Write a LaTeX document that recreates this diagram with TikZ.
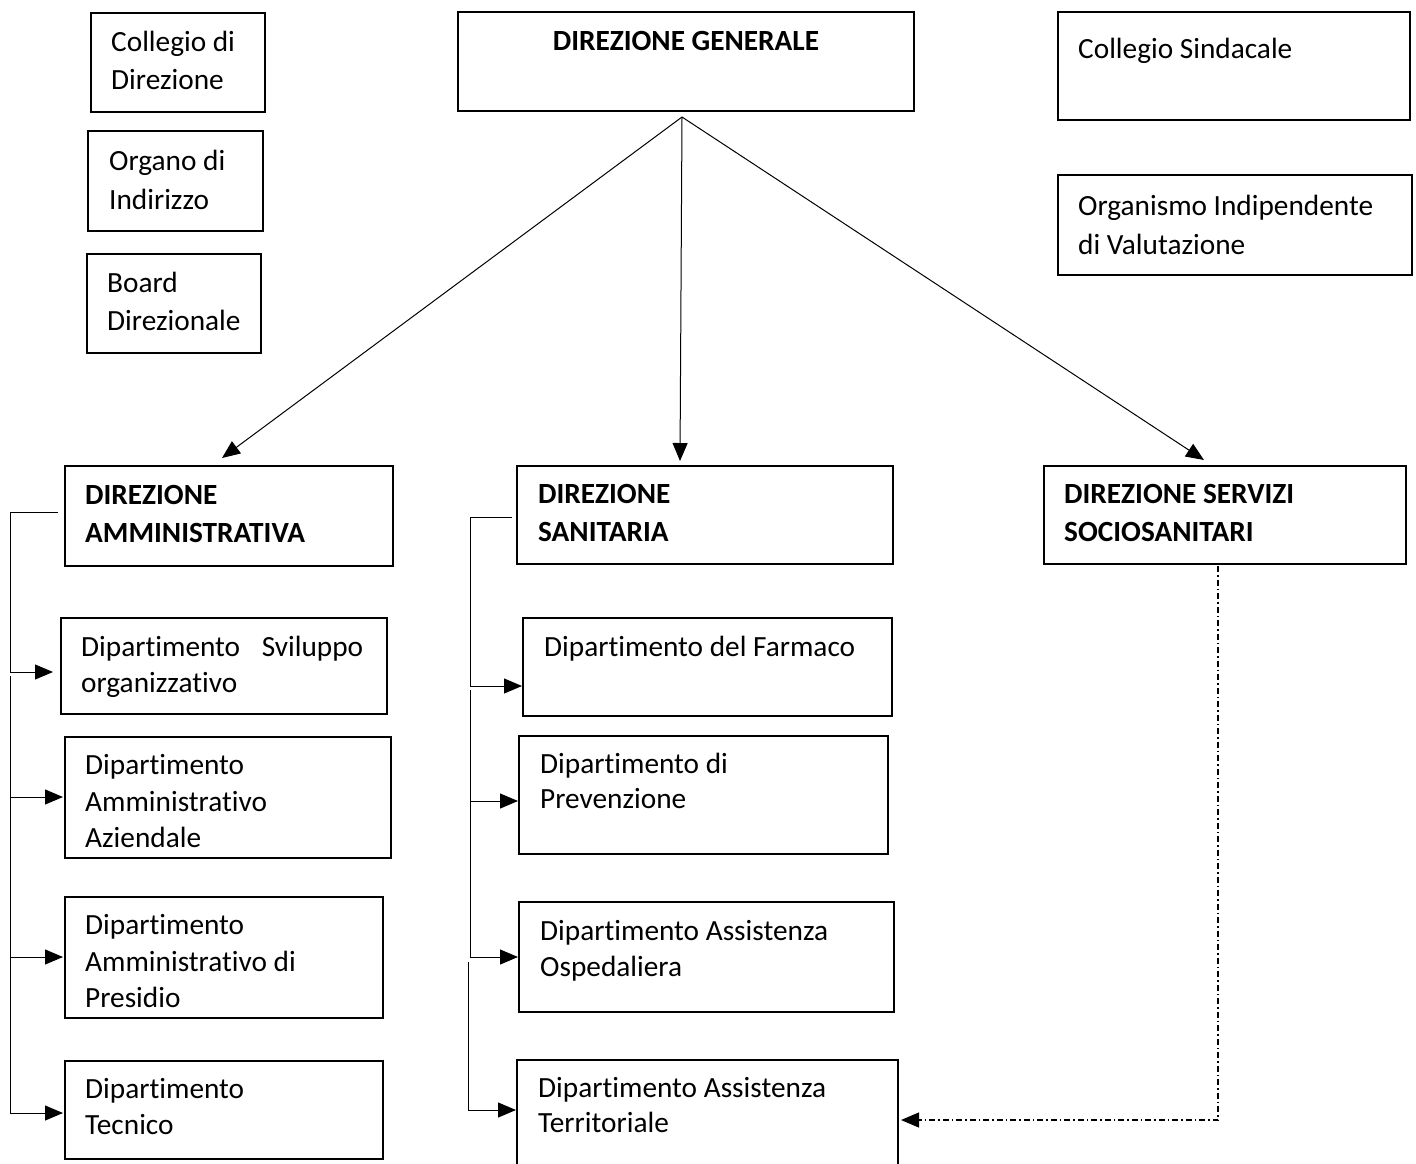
\documentclass[tikz,border=0pt]{standalone}
\usepackage{fontspec}
\setmainfont{Carlito}[Ligatures=NoCommon]
\usetikzlibrary{arrows.meta}
\begin{document}
\begin{tikzpicture}[x=1pt,y=-1pt,
  box/.style={draw,line width=1.3pt,inner sep=0pt,outer sep=0pt,anchor=north west},
  txt/.style={anchor=north west,inner sep=0pt,align=left,font=\fontsize{29.3pt}{38pt}\selectfont},
  btxt/.style={txt,font=\fontsize{29.3pt}{38pt}\selectfont\bfseries},
  dtxt/.style={txt,font=\fontsize{29.3pt}{36pt}\selectfont},
  conn/.style={line width=1pt},
  arr/.style={conn,-{Triangle[length=18pt,width=15pt]}},
  dd/.style={arr,line width=1.2pt,dash pattern=on 6pt off 3pt on 1.5pt off 3pt}]
\useasboundingbox (0,0) rectangle (1416,1163);
% boxes
\node[box,minimum width=174pt,minimum height=99pt] (cd) at (91,13) {};
\node[box,minimum width=175pt,minimum height=100pt] (oi) at (88,131) {};
\node[box,minimum width=174pt,minimum height=99pt] (bd) at (87,254) {};
\node[box,minimum width=456pt,minimum height=99pt] (dg) at (458,12) {};
\node[box,minimum width=352pt,minimum height=108pt] (cs) at (1058,12) {};
\node[box,minimum width=354pt,minimum height=100pt] (oiv) at (1058,175) {};
\node[box,minimum width=328pt,minimum height=100pt] (da) at (65,466) {};
\node[box,minimum width=376pt,minimum height=98pt] (ds) at (517,466) {};
\node[box,minimum width=362pt,minimum height=98pt] (dss) at (1044,466) {};
\node[box,minimum width=326pt,minimum height=96pt] (d1) at (61,618) {};
\node[box,minimum width=326pt,minimum height=121pt] (d2) at (65,737) {};
\node[box,minimum width=318pt,minimum height=121pt] (d3) at (65,897) {};
\node[box,minimum width=318pt,minimum height=98pt] (d4) at (65,1061) {};
\node[box,minimum width=369pt,minimum height=98pt] (s1) at (523,618) {};
\node[box,minimum width=369pt,minimum height=118pt] (s2) at (519,736) {};
\node[box,minimum width=375pt,minimum height=110pt] (s3) at (519,902) {};
\node[box,minimum width=381pt,minimum height=125pt] (s4) at (517,1060) {};
% texts
\node[txt] (tcd) at (111,25) {\strut Collegio di\\Direzione};
\node[txt,font=\fontsize{29.3pt}{39pt}\selectfont] (toi) at (109,143) {\strut Organo di\\Indirizzo};
\node[txt] (tbd) at (107,266) {\strut Board\\Direzionale};
\node[btxt,anchor=north] (tdg) at (686,24) {\strut DIREZIONE GENERALE};
\node[txt] (tcs) at (1078,32) {\strut Collegio Sindacale};
\node[txt,font=\fontsize{29.3pt}{39pt}\selectfont] (toiv) at (1078,188) {\strut Organismo Indipendente\\di Valutazione};
\node[btxt] (tda) at (85,478) {\strut DIREZIONE\\AMMINISTRATIVA};
\node[btxt] (tds) at (538,477) {\strut DIREZIONE\\SANITARIA};
\node[btxt] (tdss) at (1064,477) {\strut DIREZIONE SERVIZI\\SOCIOSANITARI};
\node[dtxt] (td1) at (81,631) {\strut Dipartimento\hspace{15pt} Sviluppo\\organizzativo};
\node[dtxt,font=\fontsize{29.3pt}{36.5pt}\selectfont] (td2) at (85,749) {\strut Dipartimento\\Amministrativo\\Aziendale};
\node[dtxt,font=\fontsize{29.3pt}{36.5pt}\selectfont] (td3) at (85,909) {\strut Dipartimento\\Amministrativo di\\Presidio};
\node[dtxt] (td4) at (85,1073) {\strut Dipartimento\\Tecnico};
\node[txt] (ts1) at (544,630) {\strut Dipartimento del Farmaco};
\node[dtxt,font=\fontsize{29.3pt}{35pt}\selectfont] (ts2) at (540,749) {\strut Dipartimento di\\Prevenzione};
\node[dtxt] (ts3) at (540,915) {\strut Dipartimento Assistenza\\Ospedaliera};
\node[dtxt,font=\fontsize{29.3pt}{35pt}\selectfont] (ts4) at (538,1073) {\strut Dipartimento Assistenza\\Territoriale};
% connector points
\coordinate (dgo) at (682,117);
\coordinate (daT) at (222,458);
\coordinate (dsT) at (680,461);
\coordinate (dssT) at (1204,460);
% top arrows
\draw[arr] (dgo) -- (daT);
\draw[arr] (dgo) -- (dsT);
\draw[arr] (dgo) -- (dssT);
% left bracket
\coordinate (la0) at (58,512);
\coordinate (la1) at (10,512);
\coordinate (la2) at (10,672);
\coordinate (la3) at (10,676);
\coordinate (la4) at (10,1113);
\coordinate (d1T) at (53,672);
\coordinate (d2T) at (63,797);
\coordinate (d3T) at (63,957);
\coordinate (d4T) at (63,1113);
\draw[arr] (la0) -- (la1) -- (la2) -- (d1T);
\draw[conn] (la3) -- (la4);
\draw[arr] (la1 |- d2T) -- (d2T);
\draw[arr] (la1 |- d3T) -- (d3T);
\draw[arr] (la4) -- (d4T);
% middle bracket
\coordinate (ma0) at (512,517);
\coordinate (ma1) at (470,517);
\coordinate (ma2) at (470,686);
\coordinate (ma3) at (470,690);
\coordinate (ma4) at (470,957);
\coordinate (ma5) at (468,962);
\coordinate (ma6) at (468,1110);
\coordinate (s1T) at (522,686);
\coordinate (s2T) at (518,801);
\coordinate (s3T) at (518,957);
\coordinate (s4T) at (516,1110);
\draw[arr] (ma0) -- (ma1) -- (ma2) -- (s1T);
\draw[conn] (ma3) -- (ma4);
\draw[arr] (ma1 |- s2T) -- (s2T);
\draw[arr] (ma4) -- (s3T);
\draw[conn] (ma5) -- (ma6);
\draw[arr] (ma6) -- (s4T);
% dashed
\coordinate (dq0) at (1218,566);
\coordinate (dq1) at (1218,1120);
\coordinate (dqT) at (901,1120);
\draw[dd] (dq0) -- (dq1) -- (dqT);
\end{tikzpicture}
\end{document}
